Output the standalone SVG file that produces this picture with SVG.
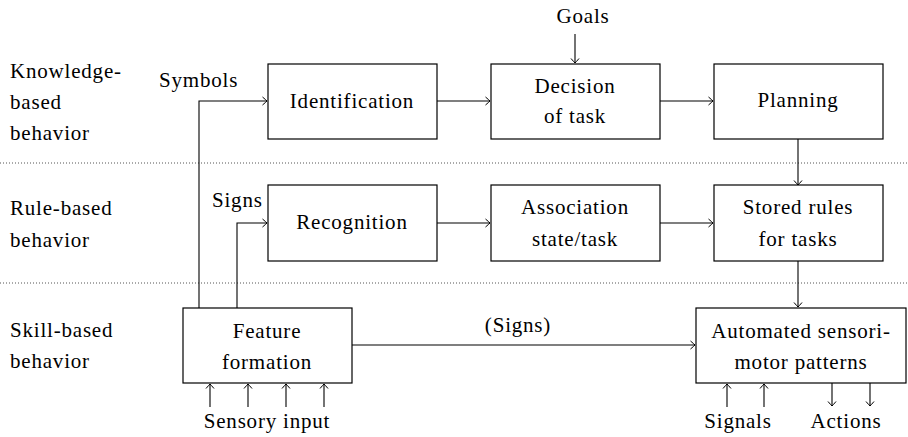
<svg xmlns="http://www.w3.org/2000/svg" width="908" height="437" viewBox="0 0 908 437">
  <style>
    text { font-family: "Liberation Serif", "Times New Roman", serif; font-size: 21px; letter-spacing: 0.8px; fill: #000; }
    .c { text-anchor: middle; }
    .box { fill: #fff; stroke: #000; stroke-width: 1.2; }
    .wire { fill: none; stroke: #000; stroke-width: 1.1; }
    .arr { marker-end: url(#to); }
    .sep { stroke: #555; stroke-width: 1; stroke-dasharray: 1 2; }
  </style>
  <defs>
    <!-- open "to" style arrow tip -->
    <marker id="to" viewBox="-6 -5 7 10" refX="0" refY="0" markerWidth="7" markerHeight="10" markerUnits="userSpaceOnUse" orient="auto">
      <path d="M -4.5 -4 Q -1 -1 0 0 Q -1 1 -4.5 4" fill="none" stroke="#000" stroke-width="1"/>
    </marker>
  </defs>

  <rect width="908" height="437" fill="#fff"/>

  <!-- layer separators -->
  <g id="separators">
    <line class="sep" x1="0" y1="163" x2="908" y2="163"/>
    <line class="sep" x1="0" y1="283" x2="908" y2="283"/>
  </g>

  <!-- layer labels -->
  <g id="layer-labels">
    <text x="10" y="78">Knowledge-</text>
    <text x="10" y="109">based</text>
    <text x="10" y="140">behavior</text>
    <text x="10" y="215">Rule-based</text>
    <text x="10" y="247">behavior</text>
    <text x="10" y="337">Skill-based</text>
    <text x="10" y="368">behavior</text>
  </g>

  <!-- connectors -->
  <g id="connectors">
    <path class="wire arr" d="M 199 308 V 101 H 267"/>
    <path class="wire arr" d="M 237 308 V 223 H 267"/>
    <path class="wire arr" d="M 437 101 H 490"/>
    <path class="wire arr" d="M 660 101 H 713"/>
    <path class="wire arr" d="M 575 34 V 63"/>
    <path class="wire arr" d="M 437 223 H 490"/>
    <path class="wire arr" d="M 660 223 H 713"/>
    <path class="wire arr" d="M 798 139 V 185"/>
    <path class="wire arr" d="M 798 261 V 307"/>
    <path class="wire arr" d="M 352 345 H 695"/>
    <path class="wire arr" d="M 210 407 V 384"/>
    <path class="wire arr" d="M 248 407 V 384"/>
    <path class="wire arr" d="M 286 407 V 384"/>
    <path class="wire arr" d="M 324 407 V 384"/>
    <path class="wire arr" d="M 727 407 V 384"/>
    <path class="wire arr" d="M 764 407 V 384"/>
    <path class="wire arr" d="M 832 383 V 406"/>
    <path class="wire arr" d="M 870 383 V 406"/>
    <text x="159" y="87">Symbols</text>
    <text x="212" y="207">Signs</text>
    <text class="c" x="583" y="23">Goals</text>
    <text class="c" x="518" y="332">(Signs)</text>
    <text class="c" x="267" y="428">Sensory input</text>
    <text class="c" x="738" y="428">Signals</text>
    <text class="c" x="846" y="428">Actions</text>
  </g>

  <!-- knowledge-based row -->
  <g id="identification">
    <rect class="box" x="268" y="64" width="169" height="75"/>
    <text class="c" x="352" y="108">Identification</text>
  </g>
  <g id="decision">
    <rect class="box" x="491" y="64" width="169" height="75"/>
    <text class="c" x="575" y="93">Decision</text>
    <text class="c" x="575" y="123">of task</text>
  </g>
  <g id="planning">
    <rect class="box" x="714" y="64" width="169" height="75"/>
    <text class="c" x="798" y="107">Planning</text>
  </g>

  <!-- rule-based row -->
  <g id="recognition">
    <rect class="box" x="268" y="185" width="169" height="76"/>
    <text class="c" x="352" y="229">Recognition</text>
  </g>
  <g id="association">
    <rect class="box" x="491" y="185" width="169" height="76"/>
    <text class="c" x="575" y="214">Association</text>
    <text class="c" x="575" y="246">state/task</text>
  </g>
  <g id="stored-rules">
    <rect class="box" x="714" y="185" width="169" height="76"/>
    <text class="c" x="798" y="214">Stored rules</text>
    <text class="c" x="798" y="246">for tasks</text>
  </g>

  <!-- skill-based row -->
  <g id="feature-formation">
    <rect class="box" x="183" y="308" width="169" height="75"/>
    <text class="c" x="267" y="338">Feature</text>
    <text class="c" x="267" y="369">formation</text>
  </g>
  <g id="automated-patterns">
    <rect class="box" x="696" y="308" width="210" height="75"/>
    <text class="c" x="801" y="338">Automated sensori-</text>
    <text class="c" x="801" y="369">motor patterns</text>
  </g>
</svg>
